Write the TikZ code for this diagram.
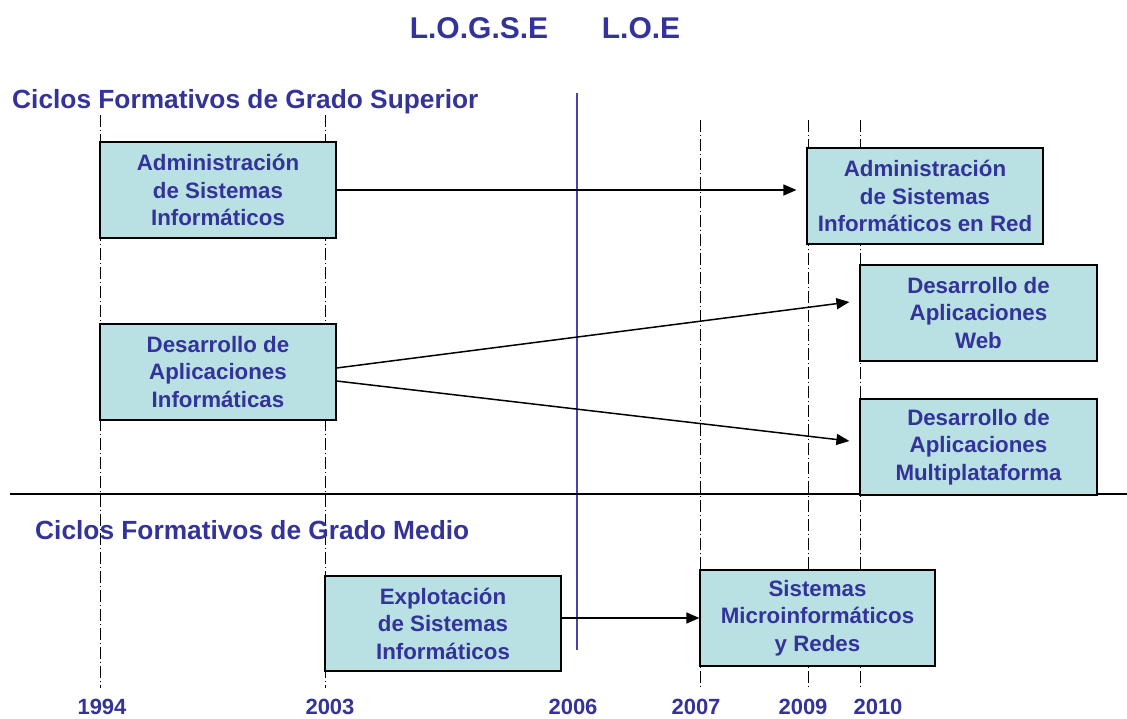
\documentclass[tikz,border=0pt]{standalone}
\usepackage{fontspec}
\setmainfont{Liberation Sans}
\usetikzlibrary{arrows.meta}
\definecolor{txtblue}{RGB}{51,51,153}
\definecolor{boxfill}{RGB}{185,224,227}
\definecolor{cutblue}{RGB}{68,68,170}
\tikzset{
  ciclo/.style={draw=black, line width=1.2pt, fill=boxfill, minimum width=236pt,
    minimum height=96pt, inner sep=0pt, align=center, text=txtblue,
    font=\fontsize{22.3}{27.5}\selectfont\bfseries},
  paso/.style={line width=1.5pt, -{Triangle[length=13pt,width=11pt]}},
  anyo/.style={text=txtblue, inner sep=0pt, font=\fontsize{22}{26}\selectfont\bfseries},
  fecha/.style={line width=1pt, dash pattern=on 12pt off 3pt on 1pt off 3pt}
}
\begin{document}
\begin{tikzpicture}[x=1pt, y=-1pt]
  \useasboundingbox[fill=white] (0,0) rectangle (1127,718);

  % Lineas de tiempo
  \foreach \x/\ytop in {100/115, 325/115, 700/120, 808/120, 860/120}
    \draw[fecha] (\x,\ytop) -- (\x,688);

  % Separacion entre leyes y entre grados
  \draw[cutblue, line width=1.5pt] (577,93) -- (577,650);
  \draw[line width=1.5pt] (10,494) -- (1127,494);

  % Titulos
  \node[text=txtblue, font=\fontsize{30}{36}\selectfont\bfseries] (logse) at (479,28) {L.O.G.S.E};
  \node[text=txtblue, font=\fontsize{30}{36}\selectfont\bfseries] (loe) at (641,28) {L.O.E};
  \node[anchor=west, inner sep=0pt, text=txtblue, font=\fontsize{26.3}{30}\selectfont\bfseries] (superior) at (12,102) {Ciclos Formativos de Grado Superior};
  \node[anchor=west, inner sep=0pt, text=txtblue, font=\fontsize{26.3}{30}\selectfont\bfseries] (medio) at (35,530) {Ciclos Formativos de Grado Medio};

  % Ciclos
  \node[ciclo] (asi) at (218,190) {Administración\\de Sistemas\\Informáticos};
  \node[ciclo] (dai) at (218,372) {Desarrollo de\\Aplicaciones\\Informáticas};
  \node[ciclo] (asir) at (925,196) {Administración\\de Sistemas\\Informáticos en Red};
  \node[ciclo, minimum width=237pt] (daw) at (978.5,313) {Desarrollo de\\Aplicaciones\\Web};
  \node[ciclo, minimum width=237pt] (dam) at (978.5,447) {Desarrollo de\\Aplicaciones\\Multiplataforma};
  \node[ciclo, minimum height=95pt] (esi) at (443,623.5) {Explotación\\de Sistemas\\Informáticos};
  \node[ciclo, minimum width=235pt] (smr) at (817.5,618) {Sistemas\\Microinformáticos\\y Redes};

  % Transiciones
  \draw[paso, shorten >=10pt] (asi.east) -- (asi.east -| asir.west);
  \draw[paso] ([yshift=4pt]dai.east) -- ([xshift=-10pt, yshift=11pt]daw.west);
  \draw[paso] ([yshift=-9pt]dai.east) -- ([xshift=-10pt, yshift=6pt]dam.west);
  \draw[paso] (esi.east |- smr.west) -- (smr.west);

  % Anyos
  \node[anyo] (y1994) at (102,707) {1994};
  \node[anyo] (y2003) at (330,707) {2003};
  \node[anyo] (y2006) at (573,707) {2006};
  \node[anyo] (y2007) at (696,707) {2007};
  \node[anyo] (y2009) at (803,707) {2009};
  \node[anyo] (y2010) at (878,707) {2010};
\end{tikzpicture}
\end{document}
